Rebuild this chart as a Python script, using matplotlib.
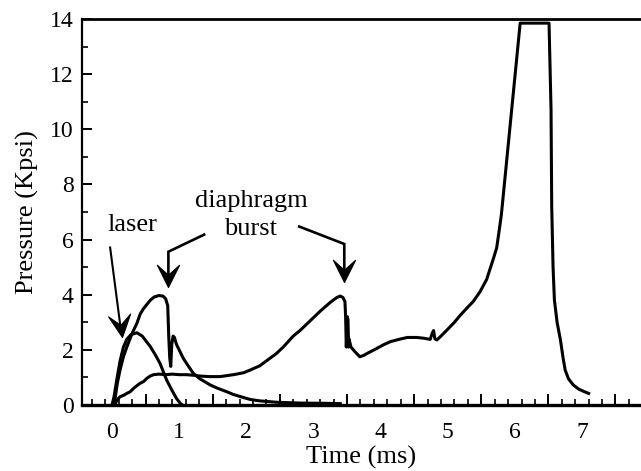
import numpy as np
import matplotlib
matplotlib.use("Agg")
import matplotlib.pyplot as plt
from matplotlib.path import Path
from matplotlib.markers import MarkerStyle
from matplotlib.transforms import Affine2D

plt.rcParams['font.family'] = ['Liberation Serif', 'DejaVu Serif']

# ---- data (time in ms, pressure in kpsi) ----
laser_t = [0.00, 0.03, 0.07, 0.12, 0.17, 0.22, 0.28, 0.37, 0.45, 0.57, 0.65,
           0.715, 0.815, 0.90, 0.96, 1.02, 1.05]
laser_p = [0.0, 0.3, 0.9, 1.6, 2.1, 2.38, 2.55, 2.62, 2.5, 2.12, 1.8,
           1.51, 0.9, 0.5, 0.24, 0.05, 0.0]

burst1_t = [0.02, 0.05, 0.08, 0.12, 0.17, 0.22, 0.30, 0.37, 0.42, 0.47, 0.52,
            0.57, 0.63, 0.70, 0.76, 0.80, 0.83, 0.845, 0.86, 0.875, 0.89,
            0.91, 0.93, 0.96, 1.01, 1.06, 1.11, 1.21, 1.31, 1.46, 1.56, 1.71,
            1.81, 1.96, 2.06, 2.20, 2.45, 2.80, 3.20, 3.40]
burst1_p = [0.0, 0.3, 0.8, 1.27, 1.75, 2.1, 2.6, 2.96, 3.3, 3.5, 3.65,
            3.8, 3.92, 3.97, 3.95, 3.85, 3.6, 2.5, 1.7, 1.4, 2.2,
            2.5, 2.45, 2.2, 1.95, 1.7, 1.51, 1.15, 0.95, 0.73, 0.62, 0.48,
            0.38, 0.27, 0.2, 0.15, 0.1, 0.07, 0.06, 0.05]

main_t = [0.04, 0.08, 0.12, 0.18, 0.22, 0.27, 0.32, 0.37, 0.42, 0.47, 0.52,
          0.57, 0.62, 0.70, 0.80, 0.90, 1.00, 1.11, 1.21, 1.31, 1.45, 1.61,
          1.81, 1.96, 2.06, 2.20, 2.30, 2.45, 2.55, 2.70, 2.80, 2.95, 3.10,
          3.25, 3.35, 3.40, 3.44, 3.47, 3.48, 3.49, 3.505, 3.515, 3.525,
          3.53, 3.56, 3.62, 3.69, 3.75, 3.80, 3.92, 4.04, 4.15, 4.29, 4.40,
          4.54, 4.65, 4.74, 4.77, 4.79, 4.81, 4.84, 4.90, 4.99, 5.10, 5.19,
          5.30, 5.38, 5.48, 5.58, 5.68, 5.73, 5.76, 5.80, 6.08, 6.51, 6.54,
          6.55, 6.57, 6.59, 6.63, 6.68, 6.72, 6.75, 6.80, 6.87, 6.95, 7.02,
          7.10]
main_p = [0.0, 0.2, 0.3, 0.36, 0.42, 0.48, 0.6, 0.7, 0.79, 0.85, 0.97,
          1.05, 1.1, 1.12, 1.1, 1.12, 1.1, 1.1, 1.08, 1.05, 1.03, 1.03,
          1.1, 1.17, 1.27, 1.42, 1.6, 1.87, 2.1, 2.5, 2.7, 3.05, 3.4,
          3.72, 3.9, 3.95, 3.9, 3.75, 3.2, 2.1, 3.2, 3.1, 2.1,
          2.4, 2.1, 1.93, 1.75, 1.8, 1.87, 2.02, 2.18, 2.3, 2.39, 2.45,
          2.45, 2.42, 2.38, 2.6, 2.7, 2.4, 2.36, 2.5, 2.72, 3.0, 3.26,
          3.55, 3.75, 4.1, 4.55, 5.3, 5.7, 6.2, 6.9, 13.85, 13.85, 10.7,
          7.2, 5.0, 3.81, 3.0, 2.36, 1.7, 1.27, 0.95, 0.73, 0.58, 0.5,
          0.42]

x_ticks = [0, 1, 2, 3, 4, 5, 6, 7]
x_tick_labels = ['0', '1', '2', '3', '4', '5', '6', '7']
y_ticks = [0, 2, 4, 6, 8, 10, 12, 14]
y_tick_labels = ['0', '2', '4', '6', '8', '10', '12', '14']

# annotations
laser_text = (0.30, 6.53)
diaphragm_text = (2.07, 7.40)
burst_text = (2.07, 6.38)
laser_arrow = [(-0.03, 5.75), (0.145, 2.48)]
burst_arrow_left = [(1.39, 6.20), (0.84, 5.56), (0.84, 4.28)]
burst_arrow_right = [(2.77, 6.49), (3.46, 5.84), (3.46, 4.46)]

W, H = 641, 471
fig = plt.figure(figsize=(W / 100, H / 100), dpi=100)
ax = fig.add_axes([82 / W, (H - 405) / H, (W - 82) / W, (405 - 19) / H])
ax.set_xlim(-0.447, 7.88)
ax.set_ylim(0, 14)

lw = 2.2
ax.plot(laser_t, laser_p, color='black', lw=lw, solid_joinstyle='round')
ax.plot(burst1_t, burst1_p, color='black', lw=lw, solid_joinstyle='round')
ax.plot(main_t, main_p, color='black', lw=lw, solid_joinstyle='round')

# spines
ax.spines['right'].set_visible(False)
ax.spines['left'].set_linewidth(1.6)
ax.spines['top'].set_linewidth(2.0)
ax.spines['bottom'].set_linewidth(2.4)

# y ticks
ax.set_yticks(y_ticks)
ax.set_yticklabels(y_tick_labels)
ax.set_yticks(np.arange(1, 14, 2), minor=True)
ax.tick_params(axis='y', which='major', direction='in', length=7, width=1.4,
               labelsize=17, pad=6)
ax.tick_params(axis='y', which='minor', direction='in', length=4, width=1.2)

# x ticks: labels at integers, tick marks at odd tenths, longer at half-integers
ax.set_xticks(x_ticks)
ax.set_xticklabels(x_tick_labels)
ax.set_xticks(np.arange(-0.3, 7.9, 0.2), minor=True)
ax.tick_params(axis='x', which='major', length=0, labelsize=17, pad=12)
ax.tick_params(axis='x', which='minor', direction='in', length=4, width=1.2)
sec = ax.secondary_xaxis('bottom')
sec.set_xticks(np.arange(-0.5, 8.0, 1.0))
sec.tick_params(direction='in', length=8, width=1.4, labelbottom=False)
sec.spines['bottom'].set_visible(False)

ax.set_xlabel('Time (ms)', fontsize=19, labelpad=2)
ax.set_ylabel('Pressure (Kpsi)', fontsize=19, labelpad=8)

# annotation text
ax.text(*laser_text, 'laser', fontsize=19, ha='center', va='center')
ax.text(*diaphragm_text, 'diaphragm', fontsize=19, ha='center', va='center')
ax.text(*burst_text, 'burst', fontsize=19, ha='center', va='center')

# arrows
head_path = Path([(0, 0), (-0.5, 1.0), (0, 0.55), (0.5, 1.0), (0, 0)],
                 [Path.MOVETO, Path.LINETO, Path.LINETO, Path.LINETO,
                  Path.CLOSEPOLY])


def draw_arrow(points, shaft_lw):
    pts = np.array(points, dtype=float)
    disp = ax.transData.transform(pts)
    d = disp[-1] - disp[-2]
    L = np.hypot(*d)
    u = d / L
    # stop shaft slightly before tip
    end = disp[-1] - u * 10
    shaft = np.vstack([disp[:-1], end])
    shaft_data = ax.transData.inverted().transform(shaft)
    ax.plot(shaft_data[:, 0], shaft_data[:, 1], color='black', lw=shaft_lw,
            solid_joinstyle='miter', solid_capstyle='butt')
    ang = np.degrees(np.arctan2(u[0], -u[1]))
    m = MarkerStyle(head_path, transform=Affine2D().rotate_deg(ang))
    ax.plot([pts[-1, 0]], [pts[-1, 1]], marker=m, ms=32, color='black',
            mec='black', mew=0.8, linestyle='none')


draw_arrow(laser_arrow, 1.5)
draw_arrow(burst_arrow_left, 1.9)
draw_arrow(burst_arrow_right, 1.9)

fig.savefig('out.png', dpi=100)
